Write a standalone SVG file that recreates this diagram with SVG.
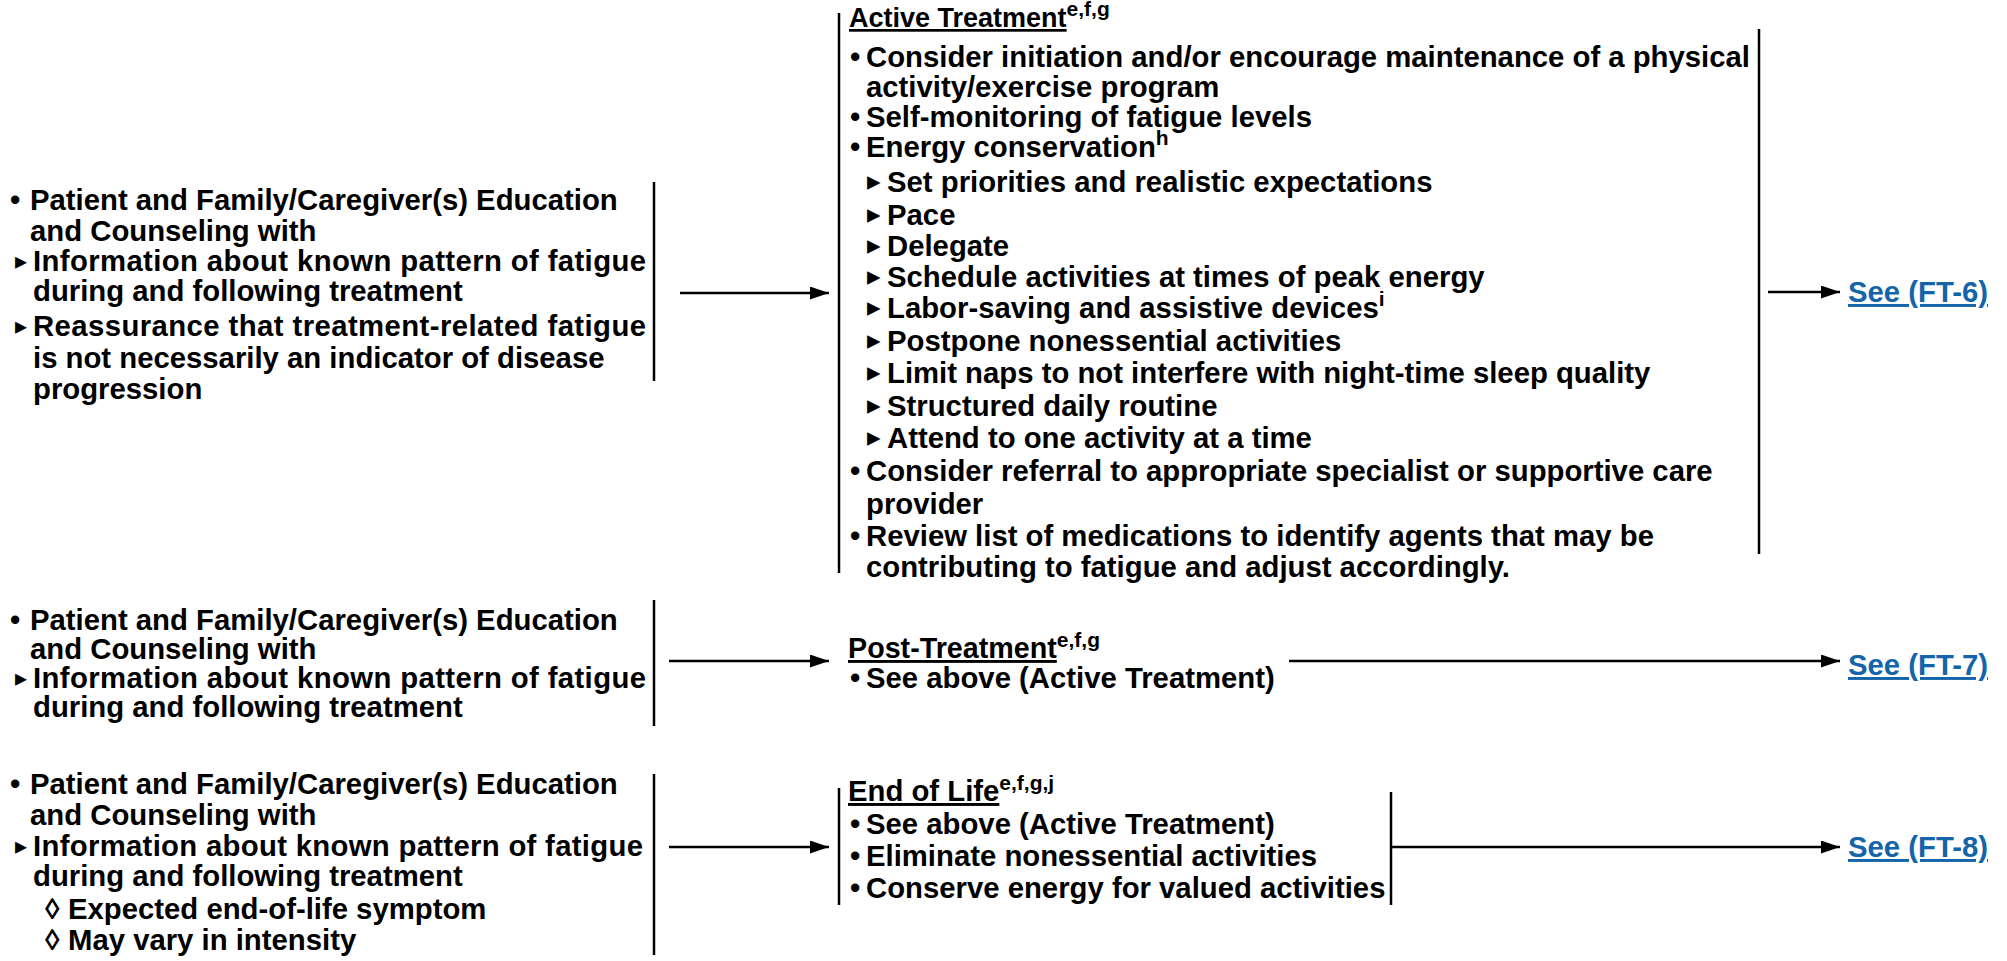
<svg xmlns="http://www.w3.org/2000/svg" width="2007" height="961" viewBox="0 0 2007 961">
<style>
text{font-family:"Liberation Sans",Arial,sans-serif;font-weight:bold;font-size:29.3px;fill:#000}
.tri{font-family:"DejaVu Sans",sans-serif;font-size:27px;font-weight:normal}
.tri2{font-family:"DejaVu Sans",sans-serif;font-size:24px;font-weight:normal}
.sup{font-size:21px}
.head{text-decoration:underline}
.link{fill:#1464aa;text-decoration:underline}
.bar{stroke:#000;stroke-width:2.5;fill:none}
.arr{stroke:#000;stroke-width:2.5;fill:none;marker-end:url(#ah)}
</style>
<defs>
<marker id="ah" markerUnits="userSpaceOnUse" markerWidth="19" markerHeight="13" refX="19" refY="6.5" orient="auto">
<path d="M0,0 L19,6.5 L0,13 z" fill="#000"/>
</marker>
</defs>

<g id="edu-active">
<line class="bar" x1="654" y1="182" x2="654" y2="381"/>
<text x="10" y="210">•</text><text x="30" y="210">Patient and Family/Caregiver(s) Education</text>
<text x="30" y="241">and Counseling with</text>
<text class="tri2" x="15" y="269">▸</text><text x="33" y="271" textLength="613" lengthAdjust="spacing">Information about known pattern of fatigue</text>
<text x="33" y="301">during and following treatment</text>
<text class="tri2" x="15" y="334">▸</text><text x="33" y="336" textLength="613" lengthAdjust="spacing">Reassurance that treatment-related fatigue</text>
<text x="33" y="368">is not necessarily an indicator of disease</text>
<text x="33" y="399">progression</text>
</g>

<g id="active-treatment">
<line class="bar" x1="839" y1="13" x2="839" y2="573"/>
<line class="bar" x1="1759" y1="29" x2="1759" y2="554"/>
<text x="849" y="27"><tspan class="head" style="font-size:27px">Active Treatment</tspan><tspan class="sup" dy="-11">e,f,g</tspan></text>
<text x="850" y="67">•</text><text x="866" y="67">Consider initiation and/or encourage maintenance of a physical</text>
<text x="866" y="97">activity/exercise program</text>
<text x="850" y="127">•</text><text x="866" y="127">Self-monitoring of fatigue levels</text>
<text x="850" y="157">•</text><text x="866" y="157">Energy conservation<tspan class="sup" dy="-12">h</tspan></text>
<text class="tri" x="867" y="190">▸</text><text x="887" y="192">Set priorities and realistic expectations</text>
<text class="tri" x="867" y="223">▸</text><text x="887" y="225">Pace</text>
<text class="tri" x="867" y="254">▸</text><text x="887" y="256">Delegate</text>
<text class="tri" x="867" y="285">▸</text><text x="887" y="287">Schedule activities at times of peak energy</text>
<text class="tri" x="867" y="316">▸</text><text x="887" y="318">Labor-saving and assistive devices<tspan class="sup" dy="-12">i</tspan></text>
<text class="tri" x="867" y="349">▸</text><text x="887" y="351">Postpone nonessential activities</text>
<text class="tri" x="867" y="381">▸</text><text x="887" y="383">Limit naps to not interfere with night-time sleep quality</text>
<text class="tri" x="867" y="414">▸</text><text x="887" y="416">Structured daily routine</text>
<text class="tri" x="867" y="446">▸</text><text x="887" y="448">Attend to one activity at a time</text>
<text x="850" y="481">•</text><text x="866" y="481">Consider referral to appropriate specialist or supportive care</text>
<text x="866" y="514">provider</text>
<text x="850" y="546">•</text><text x="866" y="546">Review list of medications to identify agents that may be</text>
<text x="866" y="577">contributing to fatigue and adjust accordingly.</text>
</g>

<g id="ft6"><text class="link" x="1848" y="302">See (FT-6)</text></g>

<g id="edu-post">
<line class="bar" x1="654" y1="600" x2="654" y2="726"/>
<text x="10" y="630">•</text><text x="30" y="630">Patient and Family/Caregiver(s) Education</text>
<text x="30" y="659">and Counseling with</text>
<text class="tri2" x="15" y="686">▸</text><text x="33" y="688" textLength="613" lengthAdjust="spacing">Information about known pattern of fatigue</text>
<text x="33" y="717">during and following treatment</text>
</g>

<g id="post-treatment">
<text x="848" y="658"><tspan class="head" style="font-size:28.7px">Post-Treatment</tspan><tspan class="sup" dy="-11">e,f,g</tspan></text>
<text x="850" y="688">•</text><text x="866" y="688">See above (Active Treatment)</text>
</g>

<g id="ft7"><text class="link" x="1848" y="675">See (FT-7)</text></g>

<g id="edu-eol">
<line class="bar" x1="654" y1="774" x2="654" y2="955"/>
<text x="10" y="794">•</text><text x="30" y="794">Patient and Family/Caregiver(s) Education</text>
<text x="30" y="825">and Counseling with</text>
<text class="tri2" x="15" y="854">▸</text><text x="33" y="856" textLength="610" lengthAdjust="spacing">Information about known pattern of fatigue</text>
<text x="33" y="886">during and following treatment</text>
<text x="45" y="919">◊</text><text x="68" y="919">Expected end-of-life symptom</text>
<text x="45" y="950">◊</text><text x="68" y="950">May vary in intensity</text>
</g>

<g id="end-of-life">
<line class="bar" x1="839" y1="788" x2="839" y2="905"/>
<line class="bar" x1="1391" y1="792" x2="1391" y2="905"/>
<text x="848" y="801"><tspan class="head">End of Life</tspan><tspan class="sup" dy="-11">e,f,g,j</tspan></text>
<text x="850" y="834">•</text><text x="866" y="834">See above (Active Treatment)</text>
<text x="850" y="866">•</text><text x="866" y="866">Eliminate nonessential activities</text>
<text x="850" y="898">•</text><text x="866" y="898">Conserve energy for valued activities</text>
</g>

<g id="ft8"><text class="link" x="1848" y="857">See (FT-8)</text></g>

<g id="connectors">
<line class="arr" x1="680" y1="293" x2="829" y2="293"/>
<line class="arr" x1="1768" y1="292" x2="1840" y2="292"/>
<line class="arr" x1="669" y1="661" x2="829" y2="661"/>
<line class="arr" x1="1289" y1="661" x2="1840" y2="661"/>
<line class="arr" x1="669" y1="847" x2="829" y2="847"/>
<line class="arr" x1="1391" y1="847" x2="1840" y2="847"/>
</g>
</svg>
